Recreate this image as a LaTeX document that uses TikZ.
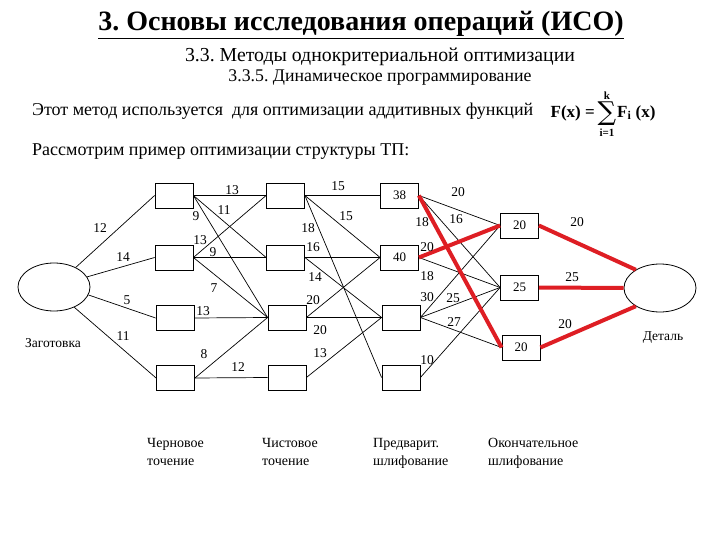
\documentclass[tikz,border=0pt]{standalone}
\usepackage{fontspec}
\setmainfont{Liberation Serif}
\newfontfamily\sumfont{DejaVu Serif}
\frenchspacing
\usetikzlibrary{shapes.geometric}
\definecolor{optred}{RGB}{222,30,36}
\begin{document}
\begin{tikzpicture}[x=1pt,y=-1pt,
  box/.style={draw,line width=0.8pt,minimum width=38pt,minimum height=25pt,inner sep=0pt,font=\fontsize{13}{13}\selectfont},
  oval/.style={draw,ellipse,line width=0.8pt,minimum width=72pt,minimum height=48pt,inner sep=0pt},
  edge/.style={line width=0.7pt},
  opt/.style={line width=4pt,color=optred},
  lbl/.style={inner sep=0pt,font=\fontsize{13.5}{13.5}\selectfont},
  fml/.style={inner sep=0pt,font=\fontsize{17}{17}\selectfont\bfseries},
  lim/.style={inner sep=0pt,font=\fontsize{11}{11}\selectfont\bfseries},
  stagecap/.style={inner sep=0pt,anchor=north west,align=left,font=\fontsize{14}{18}\selectfont}]
\useasboundingbox (0,0) rectangle (720,540);

% headings
\node[inner sep=0pt,font=\fontsize{28}{28}\selectfont\bfseries] (title) at (361,25) {\underline{3. Основы исследования операций (ИСО)}};
\node[inner sep=0pt,font=\fontsize{19.8}{19.8}\selectfont] (sub1) at (380,57) {3.3. Методы однокритериальной оптимизации};
\node[inner sep=0pt,font=\fontsize{17.8}{17.8}\selectfont] (sub2) at (380,78) {3.3.5. Динамическое программирование};
\node[inner sep=0pt,anchor=west,font=\fontsize{18}{18}\selectfont] (txt1) at (32,111) {Этот метод используется\ \ для оптимизации аддитивных функций};
\node[fml,anchor=east] (fx) at (595,113) {F(x) =};
\node[inner sep=0pt,font=\fontsize{26}{26}\selectfont\sumfont] (sum) at (607,114) {∑};
\node[lim] (sumk) at (607,96) {k};
\node[lim] (sumi) at (607,133) {i=1};
\node[fml,anchor=west] (fi) at (617,113) {F\textsubscript{i} (x)};
\node[inner sep=0pt,anchor=west,font=\fontsize{18}{18}\selectfont] (txt2) at (32,152) {Рассмотрим пример оптимизации структуры ТП:};

% start and end
\node[oval] (L) at (54,287) {};
\node[oval] (R) at (660,288) {};
\node[lbl] (Lname) at (53,343) {Заготовка};
\node[lbl] (Rname) at (663,338) {Деталь};

% columns
\node[box] (a1) at (174,195.5) {};
\node[box] (a2) at (174,257.5) {};
\node[box] (a3) at (175,318) {};
\node[box] (a4) at (175.5,378) {};
\node[box] (b1) at (285.5,195.5) {};
\node[box] (b2) at (285.5,257.5) {};
\node[box] (b3) at (287,317.5) {};
\node[box] (b4) at (287,377.5) {};
\node[box] (c1) at (399.5,195.5) {38\hspace{12pt}};
\node[box] (c2) at (399.5,257.5) {40\hspace{12pt}};
\node[box] (c3) at (401,317.5) {};
\node[box] (c4) at (401,377.5) {};
\node[box] (d1) at (519.5,225.5) {20\hspace{12pt}};
\node[box] (d2) at (519.5,287.5) {25\hspace{12pt}};
\node[box] (d3) at (521,347.5) {20\hspace{12pt}};

% thin edges
\draw[edge] (L.42) -- (a1.west);
\draw[edge] (L.17) -- (a2.west);
\draw[edge] (L.-13) -- (a3.west);
\draw[edge] (L.-45) -- (a4.west);
\draw[edge] (a1.east) -- (b1.west);
\draw[edge] (a1.east) -- (b2.west);
\draw[edge] (a1.east) -- (b3.west);
\draw[edge] (a2.east) -- (b1.west);
\draw[edge] (a2.east) -- (b2.west);
\draw[edge] (a2.east) -- (b3.west);
\draw[edge] (a3.east) -- (b3.west);
\draw[edge] (a4.east) -- (b3.west);
\draw[edge] (a4.east) -- (b4.west);
\draw[edge] (b1.east) -- (c1.west);
\draw[edge] (b1.east) -- (c2.west);
\draw[edge] (b1.east) -- (c4.west);
\draw[edge] (b2.east) -- (c2.west);
\draw[edge] (b2.east) -- (c3.west);
\draw[edge] (b3.east) -- (c2.west);
\draw[edge] (b3.east) -- (c3.west);
\draw[edge] (b4.east) -- (c3.west);
\draw[edge] (c1.east) -- (d1.west);
\draw[edge] (c1.east) -- (d2.west);
\draw[edge] (c2.east) -- (d2.west);
\draw[edge] (c3.east) -- (d1.west);
\draw[edge] (c3.east) -- (d2.west);
\draw[edge] (c3.east) -- (d3.west);
\draw[edge] (c4.east) -- (d2.west);

% optimal path (red)
\draw[opt] (c1.east) -- (d3.west);
\draw[opt] (c2.east) -- (d1.west);
\draw[opt] (d1.east) -- (R.143);
\draw[opt] (d2.east) -- (R.180);
\draw[opt] (d3.east) -- (R.217);

% edge labels
\node[lbl] (w1) at (100,228) {12};
\node[lbl] (w2) at (123,257) {14};
\node[lbl] (w3) at (127,300) {5};
\node[lbl] (w4) at (123,336) {11};
\node[lbl] (w5) at (232,190) {13};
\node[lbl] (w6) at (224,210) {11};
\node[lbl] (w7) at (196,216) {9};
\node[lbl] (w8) at (200,240) {13};
\node[lbl] (w9) at (213,252) {9};
\node[lbl] (w10) at (214,288) {7};
\node[lbl] (w11) at (203,311) {13};
\node[lbl] (w12) at (204,354) {8};
\node[lbl] (w13) at (238,367) {12};
\node[lbl] (w14) at (338,186) {15};
\node[lbl] (w15) at (346,216) {15};
\node[lbl] (w16) at (308,228) {18};
\node[lbl] (w17) at (313,247) {16};
\node[lbl] (w18) at (315,277) {14};
\node[lbl] (w19) at (313,300) {20};
\node[lbl] (w20) at (320,330) {20};
\node[lbl] (w21) at (320,353) {13};
\node[lbl] (w22) at (458,192) {20};
\node[lbl] (w23) at (456,219) {16};
\node[lbl] (w24) at (422,222) {18};
\node[lbl] (w25) at (427,247) {20};
\node[lbl] (w26) at (427,276) {18};
\node[lbl] (w27) at (427,297) {30};
\node[lbl] (w28) at (453,298) {25};
\node[lbl] (w29) at (454,322) {27};
\node[lbl] (w30) at (427,360) {10};
\node[lbl] (w31) at (577,222) {20};
\node[lbl] (w32) at (572,277) {25};
\node[lbl] (w33) at (565,324) {20};

% stage captions
\node[stagecap] (s1) at (147,438) {Черновое\\точение};
\node[stagecap] (s2) at (262,438) {Чистовое\\точение};
\node[stagecap] (s3) at (373,438) {Предварит.\\шлифование};
\node[stagecap] (s4) at (488,438) {Окончательное\\шлифование};
\end{tikzpicture}
\end{document}
